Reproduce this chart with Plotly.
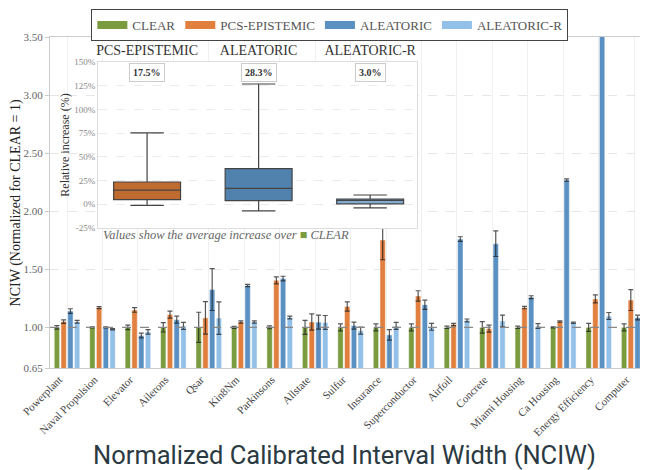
import numpy as np
import plotly.graph_objects as go

datasets = ["Powerplant", "Naval Propulsion", "Elevator", "Ailerons", "Qsar", "Kin8Nm",
            "Parkinsons", "Allstate", "Sulfur", "Insurance", "Superconductor", "Airfoil",
            "Concrete", "Miami Housing", "Ca Housing", "Energy Efficiency", "Computer"]
methods = ["CLEAR", "PCS-EPISTEMIC", "ALEATORIC", "ALEATORIC-R"]

clear_vals = [1.0] * 17
clear_err = [0.015, 0.005, 0.02, 0.04, 0.13, 0.008, 0.012, 0.06, 0.03, 0.03, 0.03, 0.01,
             0.05, 0.01, 0.005, 0.035, 0.03]

pcs_vals = [1.05, 1.17, 1.15, 1.11, 1.082, 1.046, 1.405, 1.046, 1.18, 1.752, 1.27, 1.025,
            0.989, 1.17, 1.05, 1.245, 1.235]
pcs_err = [0.015, 0.008, 0.02, 0.03, 0.14, 0.01, 0.03, 0.07, 0.04, 0.17, 0.045, 0.01,
           0.03, 0.01, 0.006, 0.035, 0.09]

alea_vals = [1.14, 1.0, 0.93, 1.066, 1.325, 1.36, 1.42, 1.045, 1.015, 0.935, 1.195, 1.76,
             1.72, 1.26, 2.268, 4.6, 1.085]
alea_err = [0.02, 0.005, 0.02, 0.03, 0.18, 0.01, 0.02, 0.06, 0.03, 0.045, 0.04, 0.02,
            0.11, 0.012, 0.01, 0.0, 0.02]

alear_vals = [1.048, 0.984, 0.961, 1.012, 1.080, 1.046, 1.085, 1.042, 0.972, 1.012, 1.005,
              1.060, 1.055, 1.012, 1.040, 1.098, 0.992]
alear_err = [0.012, 0.005, 0.02, 0.03, 0.14, 0.01, 0.012, 0.06, 0.03, 0.03, 0.03, 0.012,
             0.05, 0.02, 0.006, 0.03, 0.03]

y_ticks = [0.65, 1.0, 1.5, 2.0, 2.5, 3.0, 3.5]
Y_MIN, Y_MAX = 0.65, 3.5
inset_ticks = [-25, 0, 25, 50, 75, 100, 125, 150]

bar_colors = ["#7a9c3e", "#e07f3e", "#5b91c2", "#93c0e8"]
box_colors = ["#c06b30", "#5182ad", "#80abd3"]

SERIF = "Liberation Serif"

fig = go.Figure()
series = [(clear_vals, clear_err), (pcs_vals, pcs_err), (alea_vals, alea_err), (alear_vals, alear_err)]
for name, (vals, errs), col in zip(methods, series, bar_colors):
    fig.add_trace(go.Bar(
        x=datasets, y=vals, name=name, showlegend=False,
        marker=dict(color=col, line=dict(color="white", width=0.5)),
        error_y=dict(type="data", array=errs, color="rgba(30,30,30,0.75)", thickness=1.2, width=2.5),
        xaxis="x", yaxis="y"))
for name, col in zip(methods, bar_colors):
    fig.add_trace(go.Scatter(x=[None], y=[None], mode="lines", name=name,
                             line=dict(color=col, width=8), xaxis="x", yaxis="y"))

# inset: relative increase over CLEAR (datasets off the main scale excluded)
annotations = []
for name, (vals, _), col in zip(methods[1:], series[1:], box_colors):
    v = np.array(vals)
    rel = (v[v <= Y_MAX] - 1.0) * 100.0
    q1, med, q3 = np.percentile(rel, [25, 50, 75])
    fig.add_trace(go.Box(
        x=[name], q1=[q1], median=[med], q3=[q3], lowerfence=[rel.min()], upperfence=[rel.max()],
        fillcolor=col, line=dict(color="#444444", width=1.2), width=0.6, whiskerwidth=0.5,
        boxpoints=False, showlegend=False, xaxis="x2", yaxis="y2", hoverinfo="skip"))
    annotations.append(dict(
        x=name, y=138.5, xref="x2", yref="y2", text=f"<b>{rel.mean():.1f}%</b>", showarrow=False,
        font=dict(family=SERIF, size=10, color="#333"), bgcolor="white",
        bordercolor="#cccccc", borderwidth=1, borderpad=3))

annotations.append(dict(
    x=0.086, y=0.402, xref="paper", yref="paper", xanchor="left", yanchor="middle", showarrow=False,
    text="<i>Values show the average increase over </i><span style='color:#7a9c3e'>■</span><i> CLEAR</i>",
    font=dict(family=SERIF, size=12.5, color="#666")))
annotations.append(dict(
    x=-0.057, y=0.5, xref="paper", yref="paper", textangle=-90, showarrow=False,
    xanchor="center", yanchor="middle", text="NCIW (Normalized for CLEAR = 1)",
    font=dict(family=SERIF, size=14, color="#222")))
annotations.append(dict(
    x=0.493, y=-0.263, xref="paper", yref="paper", showarrow=False, xanchor="center", yanchor="middle",
    text="Normalized Calibrated Interval Width (NCIW)",
    font=dict(family="Roboto", size=25.5, color="#2b3a42")))

shapes = [
    dict(type="line", xref="paper", yref="y", x0=0, x1=1, y0=1.0, y1=1.0, layer="above",
         line=dict(color="#888888", width=1.4, dash="dash")),
    dict(type="rect", xref="x2", yref="y2", x0=-0.44, x1=2.42, y0=-25, y1=150, layer="below",
         fillcolor="white", line=dict(width=0)),
]

# page body adds an 8px offset, so the figure is sized to fit the 648x470 window
fig.update_layout(
    width=640, height=462, margin=dict(l=42, r=0, t=29, b=102, autoexpand=False),
    paper_bgcolor="white", plot_bgcolor="white",
    barmode="group", bargap=0.24, bargroupgap=0.2,
    font=dict(family=SERIF),
    legend=dict(orientation="h", x=0.468, xanchor="center", y=1.0845, yanchor="top",
                bordercolor="#444444", borderwidth=1, bgcolor="white",
                font=dict(family=SERIF, size=13, color="#555")),
    xaxis=dict(domain=[0, 1], range=[-0.48, 16.39], tickangle=-45, automargin=False,
               tickfont=dict(family=SERIF, size=11, color="#444"), ticklabelshift=-8,
               showgrid=True, gridcolor="#f0f0f0", showline=True, linecolor="#cccccc", mirror=True,
               ticks="", categoryorder="array", categoryarray=datasets),
    yaxis=dict(domain=[0, 1], range=[Y_MIN, Y_MAX], tickvals=y_ticks, automargin=False,
               ticktext=[f"{t:.2f}" for t in y_ticks],
               tickfont=dict(family=SERIF, size=11, color="#666"),
               showgrid=True, gridcolor="#e6e6e6", griddash="dash",
               showline=True, linecolor="#cccccc", mirror=True, ticks="outside", ticklen=4,
               tickcolor="#cccccc", zeroline=False),
    xaxis2=dict(domain=[0.0803, 0.6137], anchor="y2", side="top", range=[-0.44, 2.42],
                tickfont=dict(family=SERIF, size=14, color="#333"), ticks="",
                showline=True, linecolor="#dddddd", mirror=True, showgrid=False),
    yaxis2=dict(domain=[0.423, 0.9245], anchor="x2", range=[-25, 150], tickvals=inset_ticks,
                ticktext=[f"{t}%" for t in inset_ticks],
                tickfont=dict(family=SERIF, size=9, color="#888"),
                showgrid=True, gridcolor="#ececec", griddash="dash", zeroline=False,
                showline=True, linecolor="#dddddd", mirror=True, ticks="",
                title=dict(text="Relative increase (%)", font=dict(family=SERIF, size=12, color="#333"),
                           standoff=2)),
    annotations=annotations, shapes=shapes,
)

fig.write_html("out.html")
